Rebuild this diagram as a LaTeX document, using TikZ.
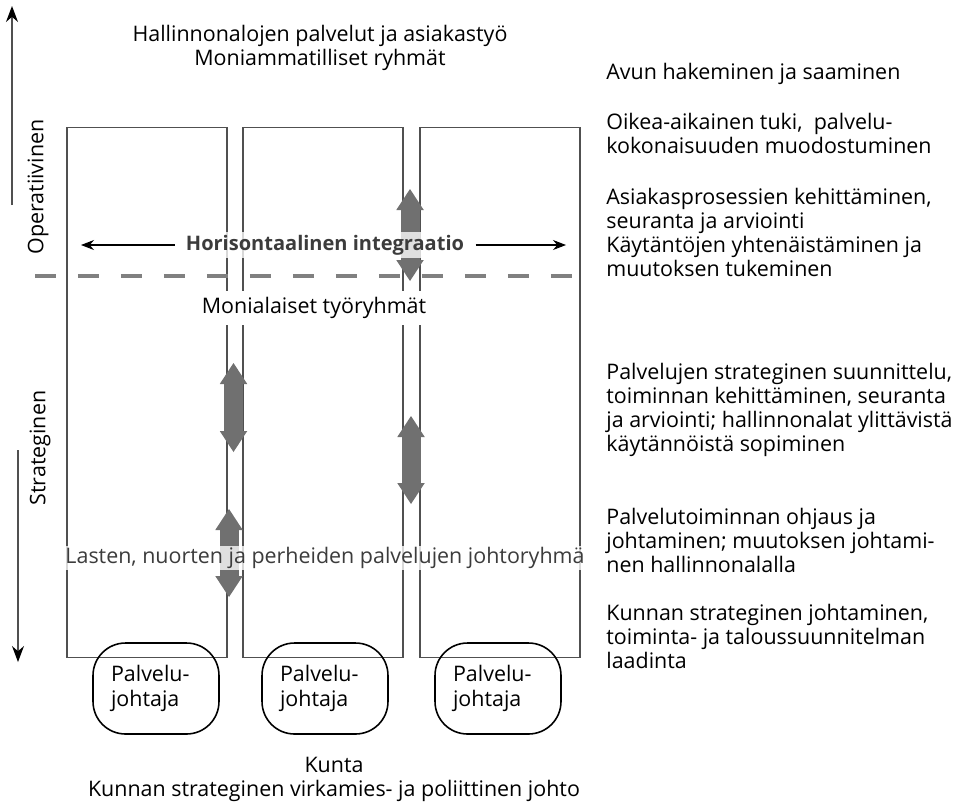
\documentclass[tikz,border=0pt]{standalone}
\usepackage{fontspec}
\setmainfont{Open Sans}
\usepackage{xcolor}
\usetikzlibrary{arrows.meta}
\definecolor{arrowgray}{HTML}{707070}
\definecolor{dashgray}{HTML}{808080}
\definecolor{linegray}{HTML}{505050}
\definecolor{labelgray}{HTML}{3C3C3C}

\begin{document}
\begin{tikzpicture}[x=0.02cm, y=-0.02cm, font=\fontsize{12.2}{13.6}\selectfont]
\tikzset{colbox/.style={draw=linegray, line width=0.6pt, minimum width=3.2cm, minimum height=10.62cm, inner sep=0pt}}
\tikzset{leader/.style={draw, rounded corners=0.65cm, line width=0.9pt, text width=1.8cm, inner xsep=0.36cm, minimum height=1.82cm, align=left, font=\fontsize{12.2}{14.6}\selectfont}}
\tikzset{bigarrow/.style={arrowgray, line width=0.38cm, {Triangle[width=0.55cm, length=0.42cm, line width=0pt]}-{Triangle[width=0.55cm, length=0.42cm, line width=0pt]}}}
\tikzset{thinarrow/.style={draw=black, line width=0.6pt, -{Stealth[length=0.26cm, width=0.2cm]}}}
\tikzset{axis/.style={draw=linegray, line width=0.7pt, -{Stealth[length=0.32cm, width=0.24cm, color=black]}}}
\tikzset{sidetext/.style={anchor=north west, align=left, inner sep=0pt}}
\tikzset{veil/.style={fill=white, fill opacity=0.78, text opacity=1}}
\useasboundingbox (0,0) rectangle (959,802);

\node[colbox] (col1) at (147,392.5) {};
\node[colbox] (col2) at (323,392.5) {};
\node[colbox] (col3) at (500,392.5) {};

\coordinate (up0) at (12,205);
\coordinate (up1) at (12,6);
\coordinate (dn0) at (18,450);
\coordinate (dn1) at (18,662);
\draw[axis] (up0) -- (up1);
\draw[axis] (dn0) -- (dn1);
\node[rotate=90] (oper) at (38,187) {Operatiivinen};
\node[rotate=90] (strat) at (40,448) {Strateginen};

\coordinate (dl) at (35,276);
\coordinate (dr) at (590,276);
\draw[dashgray, line width=2.8pt, dash pattern=on 0.42cm off 0.44cm] (dl) -- (dr);

\coordinate (a1t) at (233.5,363);
\coordinate (a1b) at (233.5,452);
\coordinate (a2t) at (411,416);
\coordinate (a2b) at (411,504);
\coordinate (a3t) at (229,509);
\coordinate (a3b) at (229,597);
\coordinate (a4t) at (410,189);
\coordinate (a4b) at (410,281);
\draw[bigarrow] (a1t) -- (a1b);
\draw[bigarrow] (a2t) -- (a2b);
\draw[bigarrow] (a3t) -- (a3b);
\draw[bigarrow] (a4t) -- (a4b);

\node[veil, text=labelgray, font=\fontsize{11.4}{13.6}\selectfont\bfseries, inner xsep=2pt, inner ysep=1.5pt, outer xsep=4.5pt] (hint) at (325,245) {Horisontaalinen integraatio};
\coordinate (hl) at (81,245);
\coordinate (hr) at (566,245);
\draw[thinarrow] (hint.west) -- (hl);
\draw[thinarrow] (hint.east) -- (hr);

\node[fill=white] (teams) at (314,308) {Monialaiset työryhmät};
\node[veil, text=labelgray, inner xsep=0.5pt, inner ysep=0.7pt] (board) at (325,558) {Lasten, nuorten ja perheiden palvelujen johtoryhmä};

\node[align=center] (top) at (320,48) {Hallinnonalojen palvelut ja asiakastyö\\Moniammatilliset ryhmät};

\node[leader] (lead1) at (156,688.5) {Palvelu-\\johtaja};
\node[leader] (lead2) at (325,688.5) {Palvelu-\\johtaja};
\node[leader] (lead3) at (498,688.5) {Palvelu-\\johtaja};

\node[align=center] (kunta) at (334,779) {Kunta\\Kunnan strateginen virkamies- ja poliittinen johto};

\node[sidetext] (s1) at (606,63) {Avun hakeminen ja saaminen};
\node[sidetext] (s2) at (606,113) {Oikea-aikainen tuki, \ palvelu-\\kokonaisuuden muodostuminen};
\node[sidetext] (s3) at (606,188) {Asiakasprosessien kehittäminen,\\seuranta ja arviointi\\Käytäntöjen yhtenäistäminen ja\\muutoksen tukeminen};
\node[sidetext] (s4) at (606,363) {Palvelujen strateginen suunnittelu,\\toiminnan kehittäminen, seuranta\\ja arviointi; hallinnonalat ylittävistä\\käytännöistä sopiminen};
\node[sidetext] (s5) at (606,508) {Palvelutoiminnan ohjaus ja\\johtaminen; muutoksen johtami-\\nen hallinnonalalla};
\node[sidetext] (s6) at (606,604) {Kunnan strateginen johtaminen,\\toiminta- ja taloussuunnitelman\\laadinta};
\end{tikzpicture}
\end{document}
